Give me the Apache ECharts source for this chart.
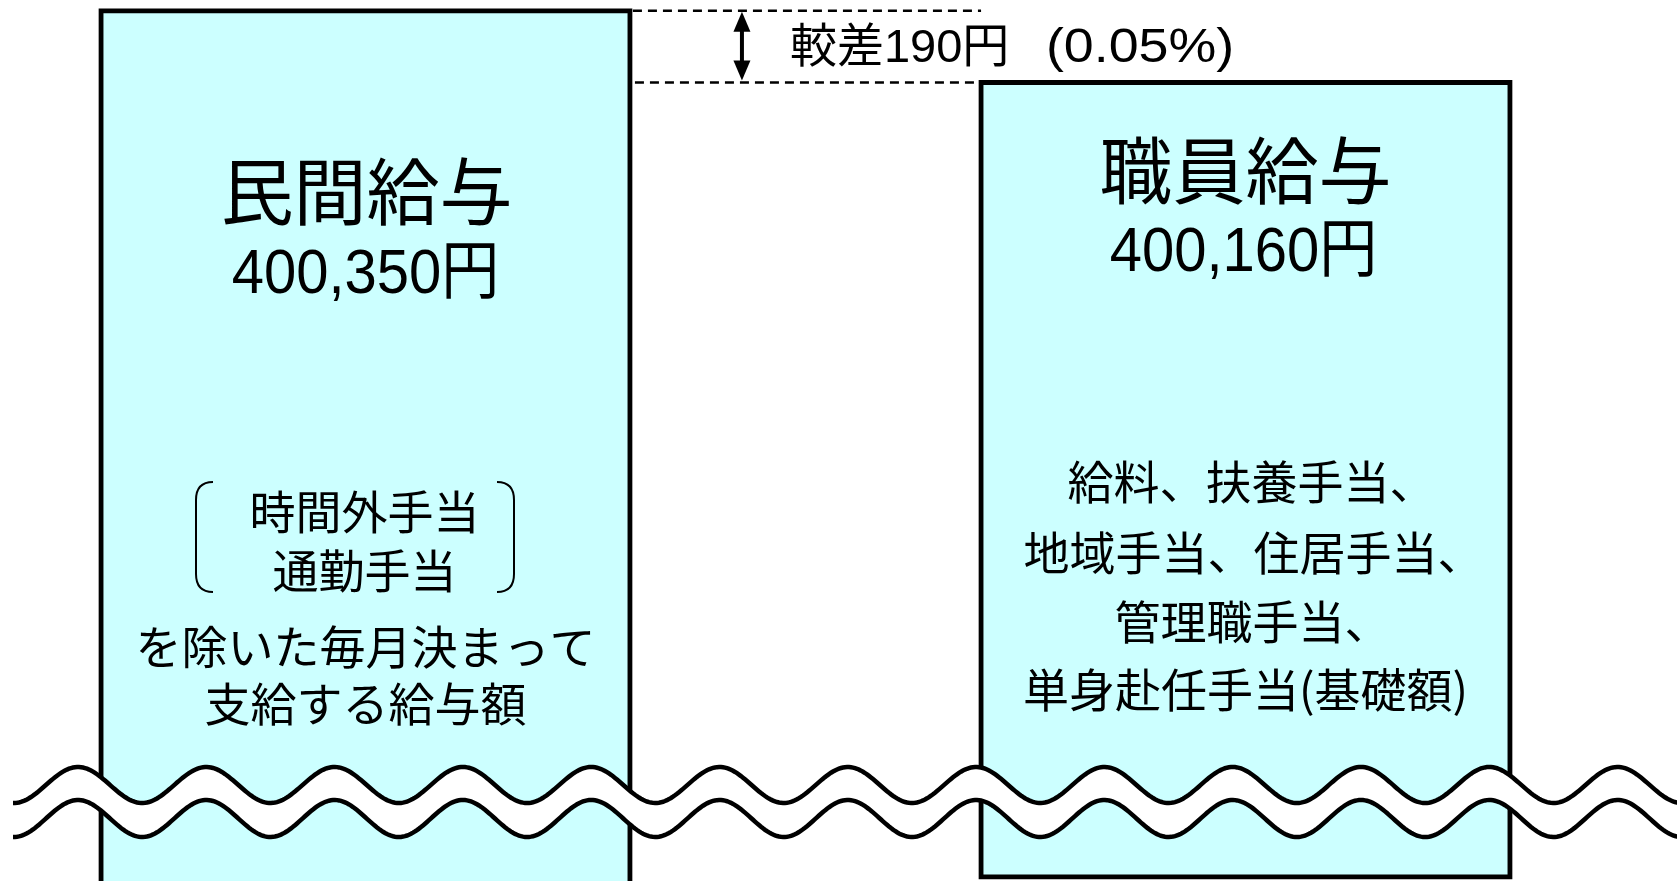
<!DOCTYPE html>
<html>
<head>
<meta charset="utf-8">
<script src="https://cdn.jsdelivr.net/npm/echarts@6/dist/echarts.min.js"></script>
<style>html,body{margin:0;padding:0;background:#fff}#c{width:1677px;height:881px}</style>
</head>
<body>
<div id="c"></div>
<script>
// ---- data ----
const categories = ['民間給与', '職員給与'];
const salaries = [400350, 400160];
const barBottoms = [397990, 398055];   // visible lower ends of the truncated bars
const notesLeftBracket = ['時間外手当', '通勤手当'];
const notesLeft = ['を除いた毎月決まって', '支給する給与額'];
const notesRight = ['給料、扶養手当、', '地域手当、住居手当、', '管理職手当、', '単身赴任手当(基礎額)'];
const yMin = 398044, yMax = 400378.6;     // visible value window (axis is cut)
const xMin = -0.41534, xMax = 1.49034;    // category slots 0 and 1

const CJK = '"Noto Sans CJK JP", sans-serif';
const LAT = '"Liberation Sans", "Noto Sans CJK JP", sans-serif';
const BAR_FRAC = 0.601;

const chart = echarts.init(document.getElementById('c'), null, {renderer: 'canvas'});
chart.setOption({
  animation: false,
  backgroundColor: '#fff',
  grid: {left: 0, right: 0, top: 0, bottom: 0, containLabel: false},
  xAxis: {type: 'value', min: xMin, max: xMax, show: false},
  yAxis: {type: 'value', min: yMin, max: yMax, show: false},
  series: [{
    type: 'custom',
    clip: false,
    data: salaries.map((v, i) => [i, v, barBottoms[i]]),
    renderItem: function (params, api) {
      const top = api.coord([api.value(0), api.value(1)]);
      const bot = api.coord([api.value(0), api.value(2)]);
      const w = api.size([1, 0])[0] * BAR_FRAC;
      return {
        type: 'rect',
        shape: {x: top[0] - w / 2, y: top[1], width: w, height: bot[1] - top[1]},
        style: {fill: '#ccffff', stroke: '#000', lineWidth: 4.8}
      };
    }
  }]
});

// ---- decorations and texts positioned from the data ----
const pL = chart.convertToPixel({gridIndex: 0}, [0, salaries[0]]);
const pR = chart.convertToPixel({gridIndex: 0}, [1, salaries[1]]);
const band = Math.abs(pR[0] - pL[0]);
const half = band * BAR_FRAC / 2;
const lRight = pL[0] + half, rLeft = pR[0] - half;
const yT = pL[1], yB = pR[1];

const fmt = v => v.toLocaleString('en-US') + '円';
const diff = salaries[0] - salaries[1];
const pct = (diff / salaries[1] * 100).toFixed(2);

function txt(s, x, y, size, fam, extra, align) {
  const a = align || 'center';
  return Object.assign({
    type: 'text', x: x, y: y, z: 30,
    style: {text: s, x: 0, y: 0, font: size + 'px ' + fam, fill: '#000',
            textAlign: a, align: a, textVerticalAlign: 'middle', verticalAlign: 'middle'}
  }, extra || {});
}

function wave(yc, amp) {
  const pts = [];
  for (let x = 13; x <= 1682; x += 2) pts.push([x, yc - amp * Math.cos(2 * Math.PI * (x - 78) / 128.3)]);
  return pts;
}
const w1 = wave(785, 18), w2 = wave(818.5, 18.5);
const band2 = w1.concat(w2.slice().reverse());

const ax = lRight + 112;
const g = [
  // dashed guide lines
  {type: 'line', z: 10, shape: {x1: lRight + 3, y1: yT, x2: rLeft, y2: yT}, style: {stroke: '#000', lineWidth: 2.6, lineDash: [9, 6]}},
  {type: 'line', z: 10, shape: {x1: lRight + 5, y1: yB, x2: rLeft, y2: yB}, style: {stroke: '#000', lineWidth: 2.6, lineDash: [9, 6]}},
  // double arrow
  {type: 'line', z: 10, shape: {x1: ax, y1: yT + 15, x2: ax, y2: yB - 15}, style: {stroke: '#000', lineWidth: 4}},
  {type: 'polygon', z: 10, shape: {points: [[ax, yT + 1], [ax - 8.5, yT + 21], [ax + 8.5, yT + 21]]}, style: {fill: '#000'}},
  {type: 'polygon', z: 10, shape: {points: [[ax, yB - 2], [ax - 8.5, yB - 22], [ax + 8.5, yB - 22]]}, style: {fill: '#000'}},
  txt('較差' + diff + '円', lRight + 160, (yT + yB) / 2 + 2, 47, LAT, null, 'left'),
  txt('(' + pct + '%)', lRight + 416, (yT + yB) / 2 + 2, 48, LAT, {scaleX: 1.12}, 'left'),
  // break band
  {type: 'polygon', z: 12, shape: {points: band2}, style: {fill: '#fff'}},
  {type: 'polyline', z: 13, shape: {points: w1}, style: {stroke: '#000', lineWidth: 4.5, fill: null}},
  {type: 'polyline', z: 13, shape: {points: w2}, style: {stroke: '#000', lineWidth: 4.5, fill: null}},
  // brackets
  {type: 'bezierCurve', z: 20, shape: {x1: 213, y1: 482, cpx1: 196, cpy1: 482, x2: 196, y2: 500}, style: {stroke: '#000', lineWidth: 2, fill: null}},
  {type: 'line', z: 20, shape: {x1: 196, y1: 500, x2: 196, y2: 574}, style: {stroke: '#000', lineWidth: 2}},
  {type: 'bezierCurve', z: 20, shape: {x1: 196, y1: 574, cpx1: 196, cpy1: 592, x2: 213, y2: 592}, style: {stroke: '#000', lineWidth: 2, fill: null}},
  {type: 'bezierCurve', z: 20, shape: {x1: 497, y1: 482, cpx1: 514, cpy1: 482, x2: 514, y2: 500}, style: {stroke: '#000', lineWidth: 2, fill: null}},
  {type: 'line', z: 20, shape: {x1: 514, y1: 500, x2: 514, y2: 574}, style: {stroke: '#000', lineWidth: 2}},
  {type: 'bezierCurve', z: 20, shape: {x1: 514, y1: 574, cpx1: 514, cpy1: 592, x2: 497, y2: 592}, style: {stroke: '#000', lineWidth: 2, fill: null}},
  // bar titles and values
  txt(categories[0], pL[0] + 1, 191, 73, CJK),
  txt(fmt(salaries[0]), pL[0], 275, 58, LAT, {scaleY: 1.1}),
  txt(categories[1], pR[0], 170, 73, CJK),
  txt(fmt(salaries[1]), pR[0] - 2, 253, 58, LAT, {scaleY: 1.1}),
  // notes
  txt(notesLeftBracket[0], pL[0] - 1, 512, 46, CJK),
  txt(notesLeftBracket[1], pL[0] - 1, 571, 46, CJK),
  txt(notesLeft[0], pL[0], 647, 46, CJK),
  txt(notesLeft[1], pL[0], 704, 46, CJK),
  txt(notesRight[0], pR[0] + 6, 482, 46, CJK),
  txt(notesRight[1], pR[0] + 8, 553, 46, CJK),
  txt(notesRight[2], pR[0] + 7, 622, 46, CJK),
  txt(notesRight[3], pR[0], 690, 46, CJK)
];
chart.setOption({graphic: g});
</script>
</body>
</html>
